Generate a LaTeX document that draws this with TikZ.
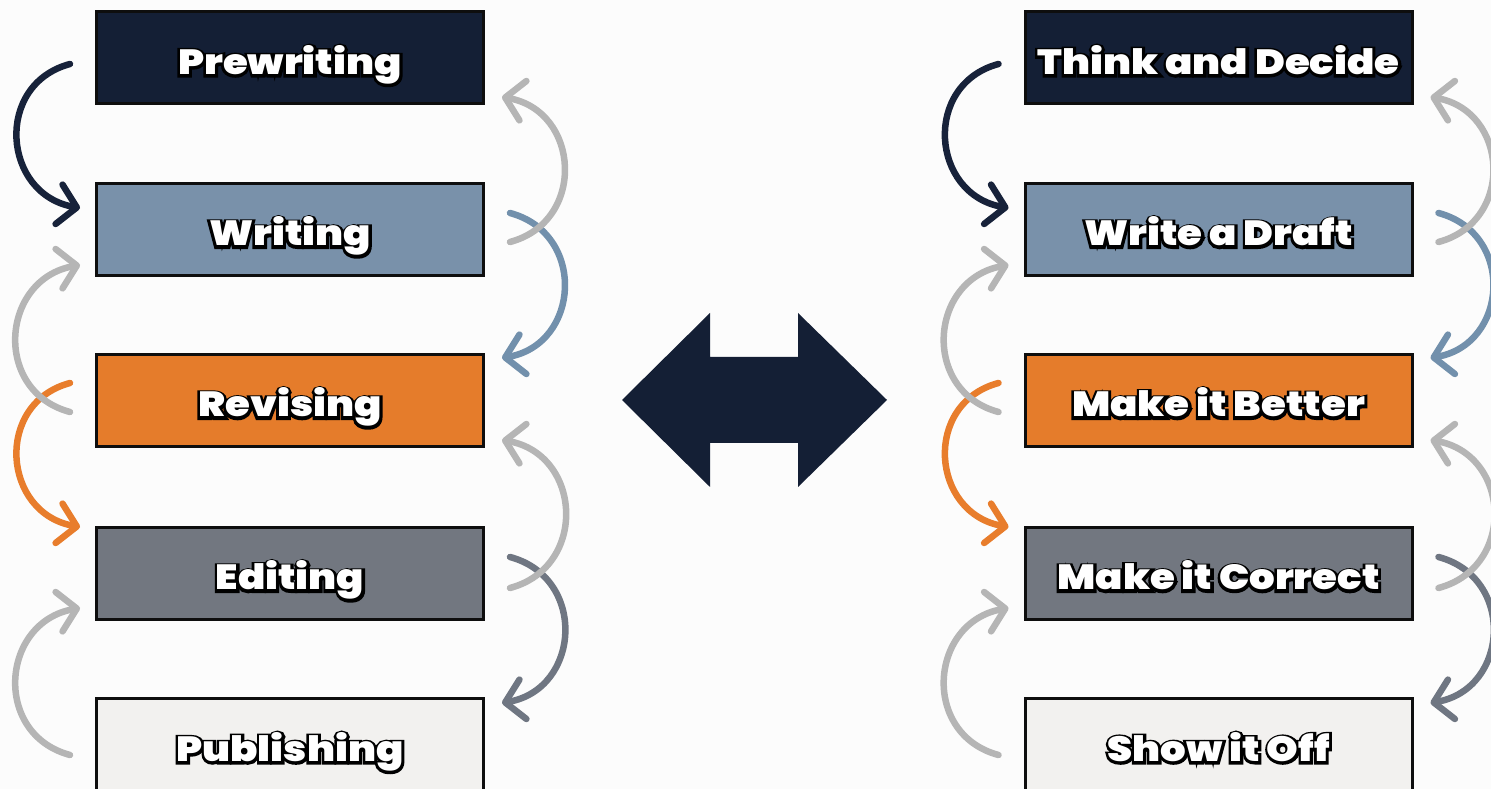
\documentclass[tikz,border=0pt]{standalone}
\usepackage{graphicx}
\usepackage{fontspec}
\setmainfont{Poppins}[UprightFont={* Black}]
\newfontfamily\rimfont{Poppins}[UprightFont={* Black}, FakeBold=14]
\usetikzlibrary{arrows.meta}

\definecolor{pagebg}{HTML}{FCFCFC}
\definecolor{navy}{HTML}{141F35}
\definecolor{steel}{HTML}{7991AA}
\definecolor{orng}{HTML}{E57C2B}
\definecolor{slate}{HTML}{727780}
\definecolor{paper}{HTML}{F2F1EF}
\definecolor{boxline}{HTML}{0E0E0E}
\definecolor{arrgray}{HTML}{B5B5B5}
\definecolor{arrnavy}{HTML}{17223A}
\definecolor{arrsteel}{HTML}{7290AC}
\definecolor{arrorng}{HTML}{E87D2C}
\definecolor{arrslate}{HTML}{6F7682}

% white lettering on a thickened black copy of itself, set a little wide
\newcommand\outlined[1]{\scalebox{1.15}[1]{%
  \rlap{\raisebox{-0.6pt}{\rimfont\textcolor{black}{#1}}}\textcolor{white}{#1}}}

\tikzset{
  stage/.style={draw=boxline, line width=3pt, minimum width=387pt,
    minimum height=92pt, inner sep=0pt, text height=33pt, text depth=0pt,
    font=\fontsize{35}{35}\selectfont},
  flow/.style={line width=6.5pt, line cap=round,
    -{Straight Barb[length=18pt,width=40pt,round]}},
  downleft/.style={out=195, in=170, looseness=1.4},
  upleft/.style={out=165, in=190, looseness=1.4},
  downright/.style={out=-15, in=10, looseness=1.4},
  upright/.style={out=15, in=-10, looseness=1.4},
}

\begin{document}
\begin{tikzpicture}[x=1pt,y=1pt]
\fill[pagebg] (0,0) rectangle (1491,789);
\clip (0,0) rectangle (1491,789);

% writing process stages
\node[stage, fill=navy]  (L1) at (290,731)   {\outlined{Prewriting}};
\node[stage, fill=steel] (L2) at (290,559.5) {\outlined{Writing}};
\node[stage, fill=orng]  (L3) at (290,388.5) {\outlined{Revising}};
\node[stage, fill=slate] (L4) at (290,215.5) {\outlined{Editing}};
\node[stage, fill=paper] (L5) at (290,44)    {\outlined{Publishing}};

% the same stages in plain words
\node[stage, fill=navy]  (R1) at (1218.5,731)   {\outlined{Think and Decide}};
\node[stage, fill=steel] (R2) at (1218.5,559.5) {\outlined{Write a Draft}};
\node[stage, fill=orng]  (R3) at (1218.5,388.5) {\outlined{Make it Better}};
\node[stage, fill=slate] (R4) at (1218.5,215.5) {\outlined{Make it Correct}};
\node[stage, fill=paper] (R5) at (1218.5,44)    {\outlined{Show it Off}};

% double-headed arrow between the two columns
\fill[navy] (622,389) -- (710,476) -- (710,432) -- (798,432) -- (798,476)
  -- (887,389) -- (798,302) -- (798,346) -- (710,346) -- (710,302) -- cycle;

% forward and backward moves between stages
\foreach \c in {L,R} {
  \draw[flow, arrnavy] ([shift={(-25,-6)}]\c1.west) to[downleft] ([shift={(-15,21.5)}]\c2.west);
  \draw[flow, arrorng] ([shift={(-25,17.5)}]\c3.west) to[downleft] ([shift={(-15,46.5)}]\c4.west);
  \draw[flow, arrsteel] ([shift={(25,16.5)}]\c2.east) to[downright] ([shift={(17,42.5)}]\c3.east);
  \draw[flow, arrslate] ([shift={(25,16.5)}]\c4.east) to[downright] ([shift={(17,42)}]\c5.east);
  \draw[flow, arrgray] ([shift={(-25,-11.5)}]\c3.west) to[upleft] ([shift={(-15,-35.5)}]\c2.west);
  \draw[flow, arrgray] ([shift={(-25,-10)}]\c5.west) to[upleft] ([shift={(-15,-34.5)}]\c4.west);
  \draw[flow, arrgray] ([shift={(25,-12.5)}]\c2.east) to[upright] ([shift={(17,-39)}]\c1.east);
  \draw[flow, arrgray] ([shift={(25,-14.5)}]\c4.east) to[upright] ([shift={(17,-39.5)}]\c3.east);
}
\end{tikzpicture}
\end{document}
